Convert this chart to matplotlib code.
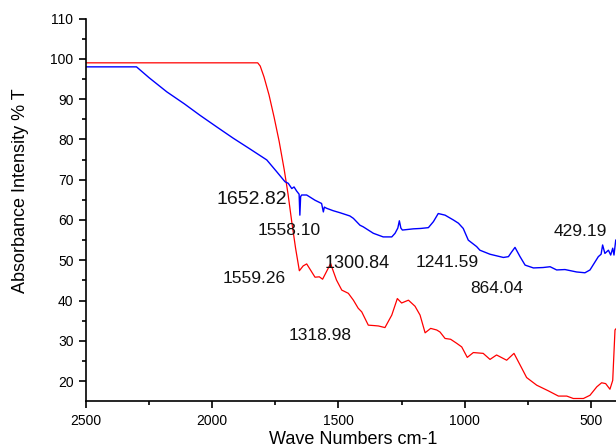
import numpy as np
import matplotlib.pyplot as plt

plt.rcParams['font.family'] = ['Liberation Sans', 'DejaVu Sans']

# red spectrum (wave number, %T)
red_wn = [2500, 1820, 1810, 1795, 1775, 1755, 1735, 1715, 1700, 1685, 1670, 1655,
          1640, 1626, 1610, 1593, 1576, 1563, 1545, 1531, 1527, 1508, 1487, 1461,
          1441, 1422, 1408, 1382, 1360, 1342, 1316, 1289, 1267, 1250, 1223, 1197,
          1177, 1157, 1135, 1111, 1098, 1078, 1056, 1032, 1012, 990, 966, 927, 900,
          874, 834, 805, 774, 755, 715, 669, 629, 596, 570, 530, 504, 477, 458, 442,
          425, 414, 405, 401]
red_t = [99, 99, 98.2, 95.5, 91, 85.5, 79.5, 72.5, 66.5, 59.5, 53, 47.4,
         48.6, 49.1, 47.5, 45.8, 45.9, 45.3, 47.5, 49.2, 48.4, 45.1, 42.6, 41.8,
         40.1, 38.1, 37.2, 33.9, 33.8, 33.7, 33.3, 36.4, 40.5, 39.4, 40.1, 38.6,
         36.4, 32, 33.1, 32.7, 32.2, 30.6, 30.4, 29.4, 28.5, 25.9, 27.1, 26.9, 25.4,
         26.5, 25.2, 26.9, 23.2, 20.9, 19.0, 17.6, 16.3, 16.3, 15.7, 15.7, 16.5, 18.6,
         19.6, 19.4, 18, 20.2, 32.7, 33]

# blue spectrum
blue_wn = [2500, 2300, 2250, 2180, 2110, 2049, 1980, 1917, 1850, 1784,
           1745, 1712, 1699, 1685, 1676, 1666,
           1656, 1653, 1650, 1646, 1626, 1593, 1567, 1560, 1556, 1547, 1521, 1494,
           1455, 1441, 1415, 1402, 1362, 1323, 1289, 1276, 1265, 1259, 1253, 1247,
           1204, 1174, 1144, 1124, 1105, 1078, 1045, 1025, 1006, 986, 953, 940, 900,
           847, 827, 815, 801, 781, 761, 728, 690, 662, 636, 603, 557, 524, 504, 484,
           471, 460, 454, 445, 431, 422, 414, 409, 402]
blue_t = [98, 98, 95.3, 91.8, 88.8, 86.0, 83.0, 80.3, 77.6, 74.9,
          72, 69.5, 69.1, 67.8, 68.2, 67.2,
          66.4, 61.2, 65.8, 66.2, 66.2, 64.9, 64.1, 62.0, 63.2, 62.9, 62.3, 61.8,
          61.0, 60.4, 58.7, 58.3, 56.7, 55.8, 55.8, 56.7, 58, 59.8, 58, 57.5,
          57.8, 57.9, 58.1, 59.6, 61.6, 61.2, 60, 59.2, 57.9, 55, 53.4, 52.5, 51.5,
          50.7, 50.9, 52, 53.2, 50.9, 48.8, 48.1, 48.2, 48.4, 47.6, 47.7, 47.1, 46.9,
          47.6, 49.6, 50.9, 51.5, 53.8, 51.7, 52.5, 51.3, 53, 51.3, 55]

# peak labels: text, x, y, size
peak_txt = ['1652.82', '1558.10', '1559.26', '1300.84', '1318.98', '1241.59', '864.04', '429.19']
peak_x = [1843, 1696, 1834, 1425, 1573, 1070, 875, 541]
peak_y = [65.2, 57.3, 45.5, 49.1, 31.25, 49.5, 43, 57.2]
peak_fs = [14, 12.5, 12.5, 13, 12.5, 12.5, 12.5, 12.5]

fig = plt.figure(figsize=(6.16, 4.48), dpi=100)
ax = fig.add_axes([0.1396, 0.1042, 0.8604, 0.8545])

ax.plot(red_wn, red_t, color='#ff0000', lw=0.9)
ax.plot(blue_wn, blue_t, color='#0000ff', lw=1.0)

for t, x, y, s in zip(peak_txt, peak_x, peak_y, peak_fs):
    ax.text(x, y, t, fontsize=s, ha='center', va='center', color='#111111')

ax.set_xlim(2500, 401)
ax.set_ylim(15, 110)
ax.set_xticks([2500, 2000, 1500, 1000, 500])
ax.set_xticks([2250, 1750, 1250, 750], minor=True)
ax.set_yticks(np.arange(20, 111, 10))
ax.set_yticks(np.arange(25, 111, 10), minor=True)

for s in ['top', 'right']:
    ax.spines[s].set_visible(False)
for s in ['left', 'bottom']:
    ax.spines[s].set_linewidth(1.2)

ax.tick_params(which='major', direction='out', length=5, width=1.2, labelsize=10, pad=4)
ax.tick_params(which='minor', direction='out', length=3.2, width=1.2)

ax.set_xlabel('Wave Numbers cm-1', fontsize=13)
ax.xaxis.set_label_coords(0.505, -0.077)
ax.set_ylabel('Absorbance Intensity % T', fontsize=13, va='center')
ax.yaxis.set_label_coords(-0.1245, 0.55)

fig.savefig('out.png', dpi=100)
